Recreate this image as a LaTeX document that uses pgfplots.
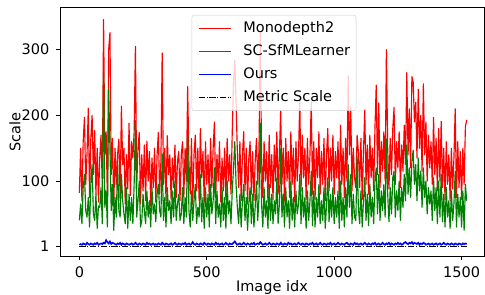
\documentclass[border=0pt]{standalone}
\usepackage{pgfplots}
\usepackage{pgfplotstable}
\usepackage{fontspec}
\setmainfont{DejaVu Sans}
\pgfplotsset{compat=1.18}
\pgfplotstableread[row sep=\\]{
x r g b\\
0 82 40 3\\ 5 150 65 4\\ 10 70 35 3\\ 15 160 90 5\\ 20 197 110 4\\ 25 95 55 3\\ 30 140 45 6\\ 35 211 75 4\\ 40 75 30 3\\ 45 165 95 5\\ 50 200 125 4\\ 55 110 50 3\\ 60 177 40 5\\ 65 80 80 4\\ 70 150 28 6\\ 75 68 62 3\\ 80 135 60 4\\ 85 170 90 5\\ 90 90 35 4\\ 95 346 266 6\\
100 140 60 5\\ 105 175 85 10\\ 110 72 30 7\\ 115 300 240 5\\ 120 326 150 8\\ 125 110 55 4\\ 130 165 95 6\\ 135 62 25 5\\ 140 150 75 4\\ 145 95 45 3\\ 150 140 130 5\\ 155 164 55 4\\ 160 70 45 6\\ 165 214 110 3\\ 170 125 70 5\\ 175 150 50 4\\ 180 65 35 3\\ 185 140 90 5\\ 190 88 28 4\\ 195 188 80 3\\
200 78 40 4\\ 205 160 75 5\\ 210 135 35 3\\ 215 175 95 4\\ 220 305 192 6\\ 225 90 45 4\\ 230 150 70 3\\ 235 174 100 5\\ 240 65 30 4\\ 245 140 40 3\\ 250 85 80 5\\ 255 155 55 4\\ 260 70 35 3\\ 265 161 85 6\\ 270 100 45 4\\ 275 145 70 5\\ 280 62 30 3\\ 285 135 90 4\\ 290 90 50 5\\ 295 150 65 3\\
300 68 38 4\\ 305 140 80 3\\ 310 174 95 5\\ 315 80 55 4\\ 320 130 45 3\\ 325 295 141 6\\ 330 95 40 4\\ 335 150 75 3\\ 340 70 30 5\\ 345 169 90 4\\ 350 110 55 3\\ 355 140 70 4\\ 360 72 35 5\\ 365 135 85 3\\ 370 90 45 4\\ 375 155 100 6\\ 380 75 40 4\\ 385 130 65 3\\ 390 145 80 5\\ 395 70 40 4\\
400 140 50 3\\ 405 160 90 5\\ 410 75 35 4\\ 415 150 75 6\\ 420 100 45 3\\ 425 244 172 4\\ 430 130 55 5\\ 435 80 30 3\\ 440 165 85 4\\ 445 65 40 7\\ 450 140 70 4\\ 455 170 95 3\\ 460 85 35 5\\ 465 150 60 4\\ 470 70 45 3\\ 475 180 110 5\\ 480 105 38 4\\ 485 145 75 3\\ 490 68 28 6\\ 495 160 90 4\\
500 95 45 3\\ 505 140 80 5\\ 510 70 30 4\\ 515 165 95 3\\ 520 90 50 5\\ 525 150 70 4\\ 530 190 120 3\\ 535 75 35 6\\ 540 140 85 4\\ 545 100 45 5\\ 550 160 65 3\\ 555 68 30 4\\ 560 135 90 5\\ 565 85 40 3\\ 570 150 75 4\\ 575 72 28 6\\ 580 165 100 4\\ 585 100 50 3\\ 590 140 70 5\\ 595 80 35 4\\
600 175 85 4\\ 605 250 120 6\\ 610 284 160 8\\ 615 220 95 5\\ 620 145 60 3\\ 625 90 35 4\\ 630 160 80 5\\ 635 70 30 3\\ 640 140 70 4\\ 645 175 95 6\\ 650 85 40 4\\ 655 150 75 3\\ 660 65 25 5\\ 665 135 65 4\\ 670 160 90 3\\ 675 80 35 5\\ 680 145 80 4\\ 685 70 30 6\\ 690 130 60 3\\ 695 165 100 4\\
700 95 40 5\\ 705 150 75 4\\ 710 325 188 7\\ 715 140 65 5\\ 720 75 30 3\\ 725 160 90 4\\ 730 100 45 5\\ 735 145 70 3\\ 740 68 28 4\\ 745 170 95 6\\ 750 90 40 4\\ 755 140 80 3\\ 760 72 35 5\\ 765 155 70 4\\ 770 100 50 3\\ 775 175 105 5\\ 780 80 35 4\\ 785 140 65 3\\ 790 208 149 6\\ 795 95 45 4\\
800 150 80 3\\ 805 70 30 5\\ 810 165 90 4\\ 815 100 45 3\\ 820 145 70 6\\ 825 75 28 4\\ 830 175 100 5\\ 835 95 40 3\\ 840 150 75 4\\ 845 68 30 5\\ 850 160 85 3\\ 855 100 50 4\\ 860 140 65 6\\ 865 223 110 4\\ 870 85 35 3\\ 875 170 90 5\\ 880 105 45 4\\ 885 150 75 3\\ 890 72 28 5\\ 895 165 85 4\\
900 95 40 3\\ 905 140 70 5\\ 910 221 115 4\\ 915 80 32 6\\ 920 160 85 3\\ 925 72 30 4\\ 930 150 75 5\\ 935 105 45 3\\ 940 175 95 4\\ 945 80 35 6\\ 950 145 70 4\\ 955 95 40 3\\ 960 165 90 5\\ 965 70 28 4\\ 970 140 65 3\\ 975 180 105 5\\ 980 85 38 4\\ 985 150 80 6\\ 990 100 45 3\\ 995 170 90 4\\
1000 80 35 5\\ 1005 145 75 3\\ 1010 105 45 4\\ 1015 160 85 6\\ 1020 72 28 4\\ 1025 185 100 3\\ 1030 95 40 5\\ 1035 150 75 4\\ 1040 75 30 3\\ 1045 165 90 5\\ 1050 100 45 6\\ 1055 260 125 4\\ 1060 140 60 3\\ 1065 213 110 5\\ 1070 85 35 4\\ 1075 150 80 3\\ 1080 105 45 6\\ 1085 90 40 4\\ 1090 170 137 5\\ 1095 145 60 3\\
1100 90 35 4\\ 1105 165 85 5\\ 1110 72 30 3\\ 1115 145 70 4\\ 1120 208 105 6\\ 1125 95 40 4\\ 1130 155 80 3\\ 1135 80 32 5\\ 1140 170 95 4\\ 1145 105 45 3\\ 1150 150 75 5\\ 1155 85 35 4\\ 1160 180 100 6\\ 1165 246 120 3\\ 1170 110 50 4\\ 1175 219 110 5\\ 1180 90 40 3\\ 1185 160 85 4\\ 1190 115 55 6\\ 1195 175 95 4\\
1200 100 45 3\\ 1205 300 164 5\\ 1210 150 80 4\\ 1215 88 38 6\\ 1220 165 90 3\\ 1225 110 50 5\\ 1230 180 105 4\\ 1235 212 115 3\\ 1240 95 45 5\\ 1245 160 85 4\\ 1250 120 55 6\\ 1255 175 100 4\\ 1260 90 40 5\\ 1265 155 90 3\\ 1270 115 60 4\\ 1275 185 110 6\\ 1280 125 70 7\\ 1285 265 155 5\\ 1290 140 80 4\\ 1295 210 120 6\\
1300 120 75 5\\ 1305 259 130 7\\ 1310 251 147 4\\ 1315 190 95 6\\ 1320 220 125 5\\ 1325 135 70 4\\ 1330 240 135 6\\ 1335 150 85 3\\ 1340 200 115 5\\ 1345 115 60 4\\ 1350 248 120 6\\ 1355 140 75 5\\ 1360 190 100 3\\ 1365 100 50 4\\ 1370 170 90 5\\ 1375 120 65 3\\ 1380 160 85 4\\ 1385 95 40 5\\ 1390 197 105 3\\ 1395 110 55 4\\
1400 165 90 5\\ 1405 85 35 3\\ 1410 180 100 4\\ 1415 100 45 5\\ 1420 191 110 3\\ 1425 90 38 4\\ 1430 150 80 6\\ 1435 72 30 4\\ 1440 160 90 3\\ 1445 95 45 5\\ 1450 140 70 4\\ 1455 70 28 3\\ 1460 150 85 5\\ 1465 88 40 4\\ 1470 135 65 3\\ 1475 210 115 5\\ 1480 75 30 4\\ 1485 160 80 3\\ 1490 90 45 5\\ 1495 145 75 4\\
1500 72 30 3\\ 1505 150 85 5\\ 1510 95 25 4\\ 1515 183 95 5\\ 1520 193 70 4\\
}\data

\begin{document}
\begin{tikzpicture}[font=\fontsize{14.5bp}{17bp}\selectfont]
\path[use as bounding box] (-60bp,-38.3bp) rectangle (425bp,256.7bp);
\begin{axis}[
  at={(0,0)}, anchor=south west,
  scale only axis, width=424bp, height=249.4bp,
  xmin=-76, xmax=1588, ymin=-15.2, ymax=364.6,
  xtick={0,500,1000,1500}, xticklabels={0,500,1000,1500},
  ytick={1,100,200,300}, yticklabels={1,100,200,300},
  scaled ticks=false,
  tick align=outside, tick pos=left,
  major tick length=3.5bp,
  every tick/.style={black, line width=0.8bp},
  axis line style={line width=0.8bp},
  tick label style={font=\fontsize{14.5bp}{17bp}\selectfont},
  xticklabel style={anchor=north, inner sep=0pt, yshift=-6.3bp},
  yticklabel style={anchor=east, inner sep=0pt, xshift=-7bp},
  xlabel={Image idx}, ylabel={Scale},
  every axis x label/.style={at={(axis description cs:0.5,0)}, anchor=center, yshift=-30.3bp, font=\fontsize{14.5bp}{17bp}\selectfont},
  every axis y label/.style={at={(axis description cs:-0.1061,0.5)}, anchor=center, rotate=90, font=\fontsize{14.5bp}{17bp}\selectfont},
  legend cell align=left,
  legend image code/.code={\draw[#1] (0bp,0bp) -- (32bp,0bp);},
  legend style={at={(0.5,1)}, anchor=north, yshift=-7.7bp, xshift=2bp,
    draw=black!20, rounded corners=2.5bp, fill=white, fill opacity=0.8,
    text opacity=1, draw opacity=1, inner xsep=6bp, inner ysep=6.5bp,
    row sep=9.5bp, column sep=12bp,
    nodes={inner sep=0pt, text height=10.5bp, text depth=3bp},
    font=\fontsize{14.5bp}{17bp}\selectfont},
]
\addplot[red, line width=1.15bp, line join=round] table[x=x, y=r]{\data};
\addlegendentry{Monodepth2}
\addplot[green!50!black, line width=1.15bp, line join=round] table[x=x, y=g]{\data};
\addlegendentry{SC-SfMLearner}
\addplot[blue, line width=1.6bp] table[x=x, y=b]{\data};
\addlegendentry{Ours}
\addplot[black, line width=1bp, dash pattern=on 6.4bp off 1.6bp on 1bp off 1.6bp] coordinates {(0,1) (1520,1)};
\addlegendentry{Metric Scale}
\end{axis}
\end{tikzpicture}
\end{document}
